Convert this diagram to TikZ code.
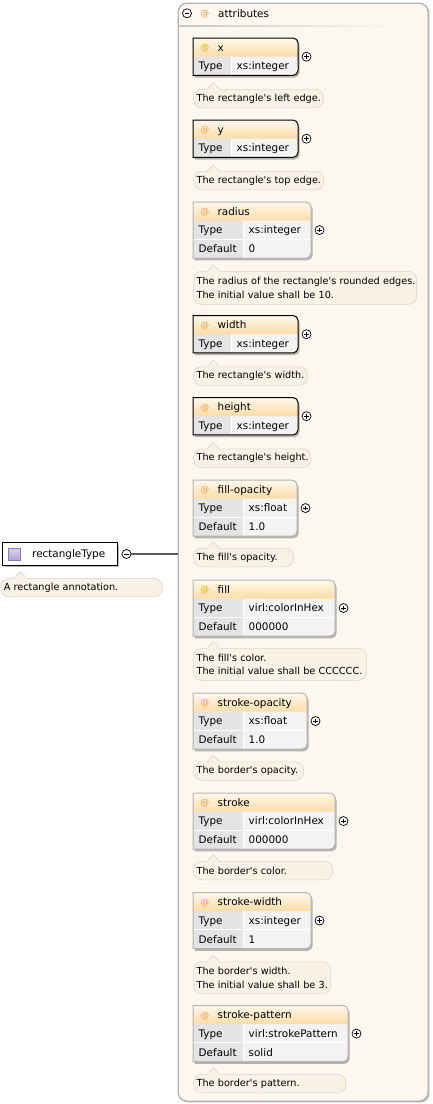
\documentclass[tikz,border=0pt]{standalone}
\usepackage{fontspec}
\setmainfont{DejaVu Sans}[Ligatures=TeXOff]
\usetikzlibrary{shadows}
\definecolor{cream}{HTML}{FDF8EF}
\definecolor{contborder}{HTML}{B2B2B2}
\definecolor{hdtop}{HTML}{FFF8EC}
\definecolor{hdbot}{HTML}{FBDCA6}
\definecolor{atclr}{HTML}{EE9C3C}
\definecolor{cellL}{HTML}{E4E4E4}
\definecolor{cellR}{HTML}{F3F3F3}
\definecolor{bubfill}{HTML}{F8F1E5}
\definecolor{bubdraw}{HTML}{DDD6CA}
\definecolor{optborder}{HTML}{B5B5B5}
\definecolor{icontop}{HTML}{DCD3F0}
\definecolor{iconbot}{HTML}{B3A3DA}
\definecolor{iconborder}{HTML}{8B7BBD}
\tikzset{
  boxtxt/.style={font=\fontsize{10.4}{12}\selectfont, inner sep=0pt, anchor=base west},
  attxt/.style={font=\fontsize{8.6}{10}\selectfont, text=atclr, inner sep=0pt},
  desc/.style={draw=bubdraw, fill=bubfill, rounded corners=8pt, anchor=north west,
    align=left, font=\fontsize{9.7}{13.3}\selectfont, inner xsep=3pt, inner ysep=3pt,
    minimum height=18.5pt, line width=0.6pt},
  togglebtn/.style={circle, draw=black, fill=white, minimum size=9pt, inner sep=0pt, line width=0.7pt},
  boxshadow/.style={fill=black, opacity=0.28},
  connector/.style={line width=1.6pt, black!65},
}
% plus / minus toggles
\newcommand\plusbtn[3]{%
  \node[togglebtn] (#1) at (#2,#3) {};
  \draw[line width=0.7pt] ([xshift=-2.4pt]#1.center) -- ([xshift=2.4pt]#1.center);
  \draw[line width=0.7pt] ([yshift=-2.4pt]#1.center) -- ([yshift=2.4pt]#1.center);
}
\newcommand\minusbtn[3]{%
  \node[togglebtn] (#1) at (#2,#3) {};
  \draw[line width=0.7pt] ([xshift=-2.4pt]#1.center) -- ([xshift=2.4pt]#1.center);
}
% attribute box: #1 id, #2 top, #3 right, #4 name, #5 type, #6 default (empty = none), #7 border colour
\newcommand\attrbox[7]{%
  \pgfmathsetmacro\tp{-(#2)}%
  \pgfmathsetmacro\hb{-(#2)-18.7}%
  \ifx&#6&%
    \pgfmathsetmacro\bt{-(#2)-37.4}\def\dv{231}%
  \else
    \pgfmathsetmacro\bt{-(#2)-56.1}\def\dv{243}%
  \fi
  \pgfmathsetmacro\rr{#3-5}%
  \pgfmathsetmacro\bq{\bt+5}%
  \pgfmathsetmacro\cy{(\tp+\bt)/2}%
  \fill[boxshadow, xshift=1.6pt, yshift=-2.2pt] (193,\tp) -- (\rr,\tp) arc[start angle=90,end angle=0,radius=5] -- (#3,\bq) arc[start angle=0,end angle=-90,radius=5] -- (193,\bt) -- cycle;
  \fill[cellR] (193,\tp) -- (\rr,\tp) arc[start angle=90,end angle=0,radius=5] -- (#3,\bq) arc[start angle=0,end angle=-90,radius=5] -- (193,\bt) -- cycle;
  \fill[cellL] (193,\hb) rectangle (\dv,\bt);
  \shade[top color=hdtop, bottom color=hdbot] (193,\tp) -- (\rr,\tp) arc[start angle=90,end angle=0,radius=5] -- (#3,\hb) -- (193,\hb) -- cycle;
  \draw[white, line width=1pt] (\dv,\hb) -- (\dv,\bt);
  \ifx&#6&\else
    \draw[white, line width=1pt] (193,\hb-18.7) -- (#3,\hb-18.7);
  \fi
  \draw[#7, line width=1pt] (193,\tp) -- (\rr,\tp) arc[start angle=90,end angle=0,radius=5] -- (#3,\bq) arc[start angle=0,end angle=-90,radius=5] -- (193,\bt) -- cycle;
  \node[attxt, anchor=base] (#1-at) at (205,\tp-12.9) {@};
  \node[boxtxt] (#1-name) at (217.5,\tp-13.1) {#4};
  \node[boxtxt] (#1-tl) at (198.5,\hb-13.1) {Type};
  \node[boxtxt] (#1-tv) at (\dv+5.5,\hb-13.1) {#5};
  \ifx&#6&\else
    \node[boxtxt] (#1-dl) at (198.5,\hb-31.8) {Default};
    \node[boxtxt] (#1-dv) at (\dv+5.5,\hb-31.8) {#6};
  \fi
  \plusbtn{#1-plus}{#3+8.5}{\cy}
}
% description bubble: [#1 extra style], #2 id, #3 left, #4 top, #5 width, #6 content
\newcommand\descnode[6][]{%
  \node[desc, text width=#5pt-6pt, #1] (#2) at (#3,-#4) {#6};
  \fill[bubfill] ([xshift=14pt,yshift=-0.8pt]#2.north west) -- ([xshift=20pt,yshift=6.3pt]#2.north west) -- ([xshift=26pt,yshift=-0.8pt]#2.north west) -- cycle;
  \draw[bubdraw, line width=0.6pt] ([xshift=14pt]#2.north west) -- ([xshift=20pt,yshift=6.3pt]#2.north west) -- ([xshift=26pt]#2.north west);
}
\begin{document}
\begin{tikzpicture}[x=1pt, y=1pt]
\useasboundingbox (0,0) rectangle (432,-1104);
% container
\node[draw=contborder, fill=cream, rounded corners=9pt, line width=1.3pt,
  minimum width=250pt, minimum height=1098pt, anchor=north west, inner sep=0pt,
  drop shadow={shadow xshift=1.3pt, shadow yshift=-1.3pt, fill=black, opacity=0.3}] (attrs) at (177.5,-2.5) {};
\shade[left color=black!22, right color=cream] (178.5,-25.4) rectangle (392,-26.8);
\minusbtn{attrs-minus}{187}{-13.3}
\node[attxt, anchor=base] (attrs-at) at (205,-16.9) {@};
\node[boxtxt] (attrs-label) at (218,-17.1) {attributes};

% attributes
\attrbox{x}{38}{298}{x}{xs:integer}{}{black}
\descnode{d-x}{193.3}{89}{130}{\mbox{The rectangle's left edge.}}
\attrbox{y}{120}{298}{y}{xs:integer}{}{black}
\descnode{d-y}{193.3}{171}{130}{\mbox{The rectangle's top edge.}}
\attrbox{radius}{202}{311}{radius}{xs:integer}{0}{optborder}
\descnode[minimum height=33pt]{d-radius}{193.3}{271}{223}{\mbox{The radius of the rectangle's rounded edges.}\\\mbox{The initial value shall be 10.}}
\attrbox{width}{315.5}{298}{width}{xs:integer}{}{black}
\descnode{d-width}{193.3}{366.5}{114}{\mbox{The rectangle's width.}}
\attrbox{height}{397.5}{298}{height}{xs:integer}{}{black}
\descnode{d-height}{193.3}{448.5}{117}{\mbox{The rectangle's height.}}
\attrbox{fillop}{480}{297}{fill-opacity}{xs:float}{1.0}{optborder}
\descnode{d-fillop}{193.3}{548}{100}{\mbox{The fill's opacity.}}
\attrbox{fill}{580}{335}{fill}{virl:colorInHex}{000000}{optborder}
\descnode[minimum height=32pt]{d-fill}{193.3}{648}{173}{\mbox{The fill's color.}\\\mbox{The initial value shall be CCCCCC.}}
\attrbox{strokeop}{693}{307}{stroke-opacity}{xs:float}{1.0}{optborder}
\descnode{d-strokeop}{193.3}{761.5}{110}{\mbox{The border's opacity.}}
\attrbox{stroke}{793}{335}{stroke}{virl:colorInHex}{000000}{optborder}
\descnode{d-stroke}{193.3}{861}{139}{\mbox{The border's color.}}
\attrbox{strokew}{892.5}{311}{stroke-width}{xs:integer}{1}{optborder}
\descnode[minimum height=32pt]{d-strokew}{193.3}{961.5}{137}{\mbox{The border's width.}\\\mbox{The initial value shall be 3.}}
\attrbox{strokep}{1005.5}{348}{stroke-pattern}{virl:strokePattern}{solid}{optborder}
\descnode{d-strokep}{193.3}{1074}{152}{\mbox{The border's pattern.}}

% rectangleType element
\node[draw=black, fill=white, line width=1pt, minimum width=115pt, minimum height=22.5pt, inner sep=0pt,
  drop shadow={shadow xshift=1.6pt, shadow yshift=-2pt, fill=black, opacity=0.28}] (rt) at (59.5,-553.8) {};
\node[draw=iconborder, top color=icontop, bottom color=iconbot, minimum size=12pt, inner sep=0pt, line width=0.6pt] (rt-icon) at (14.3,-554) {};
\node[boxtxt] (rt-label) at (32,-557.9) {rectangleType};
\minusbtn{rt-minus}{126.5}{-554}
\draw[connector] (rt-minus.east) -- (rt-minus.east -| attrs.west);
\descnode{rt-desc}{0.5}{578}{161.5}{\mbox{A rectangle annotation.}}
\end{tikzpicture}
\end{document}
